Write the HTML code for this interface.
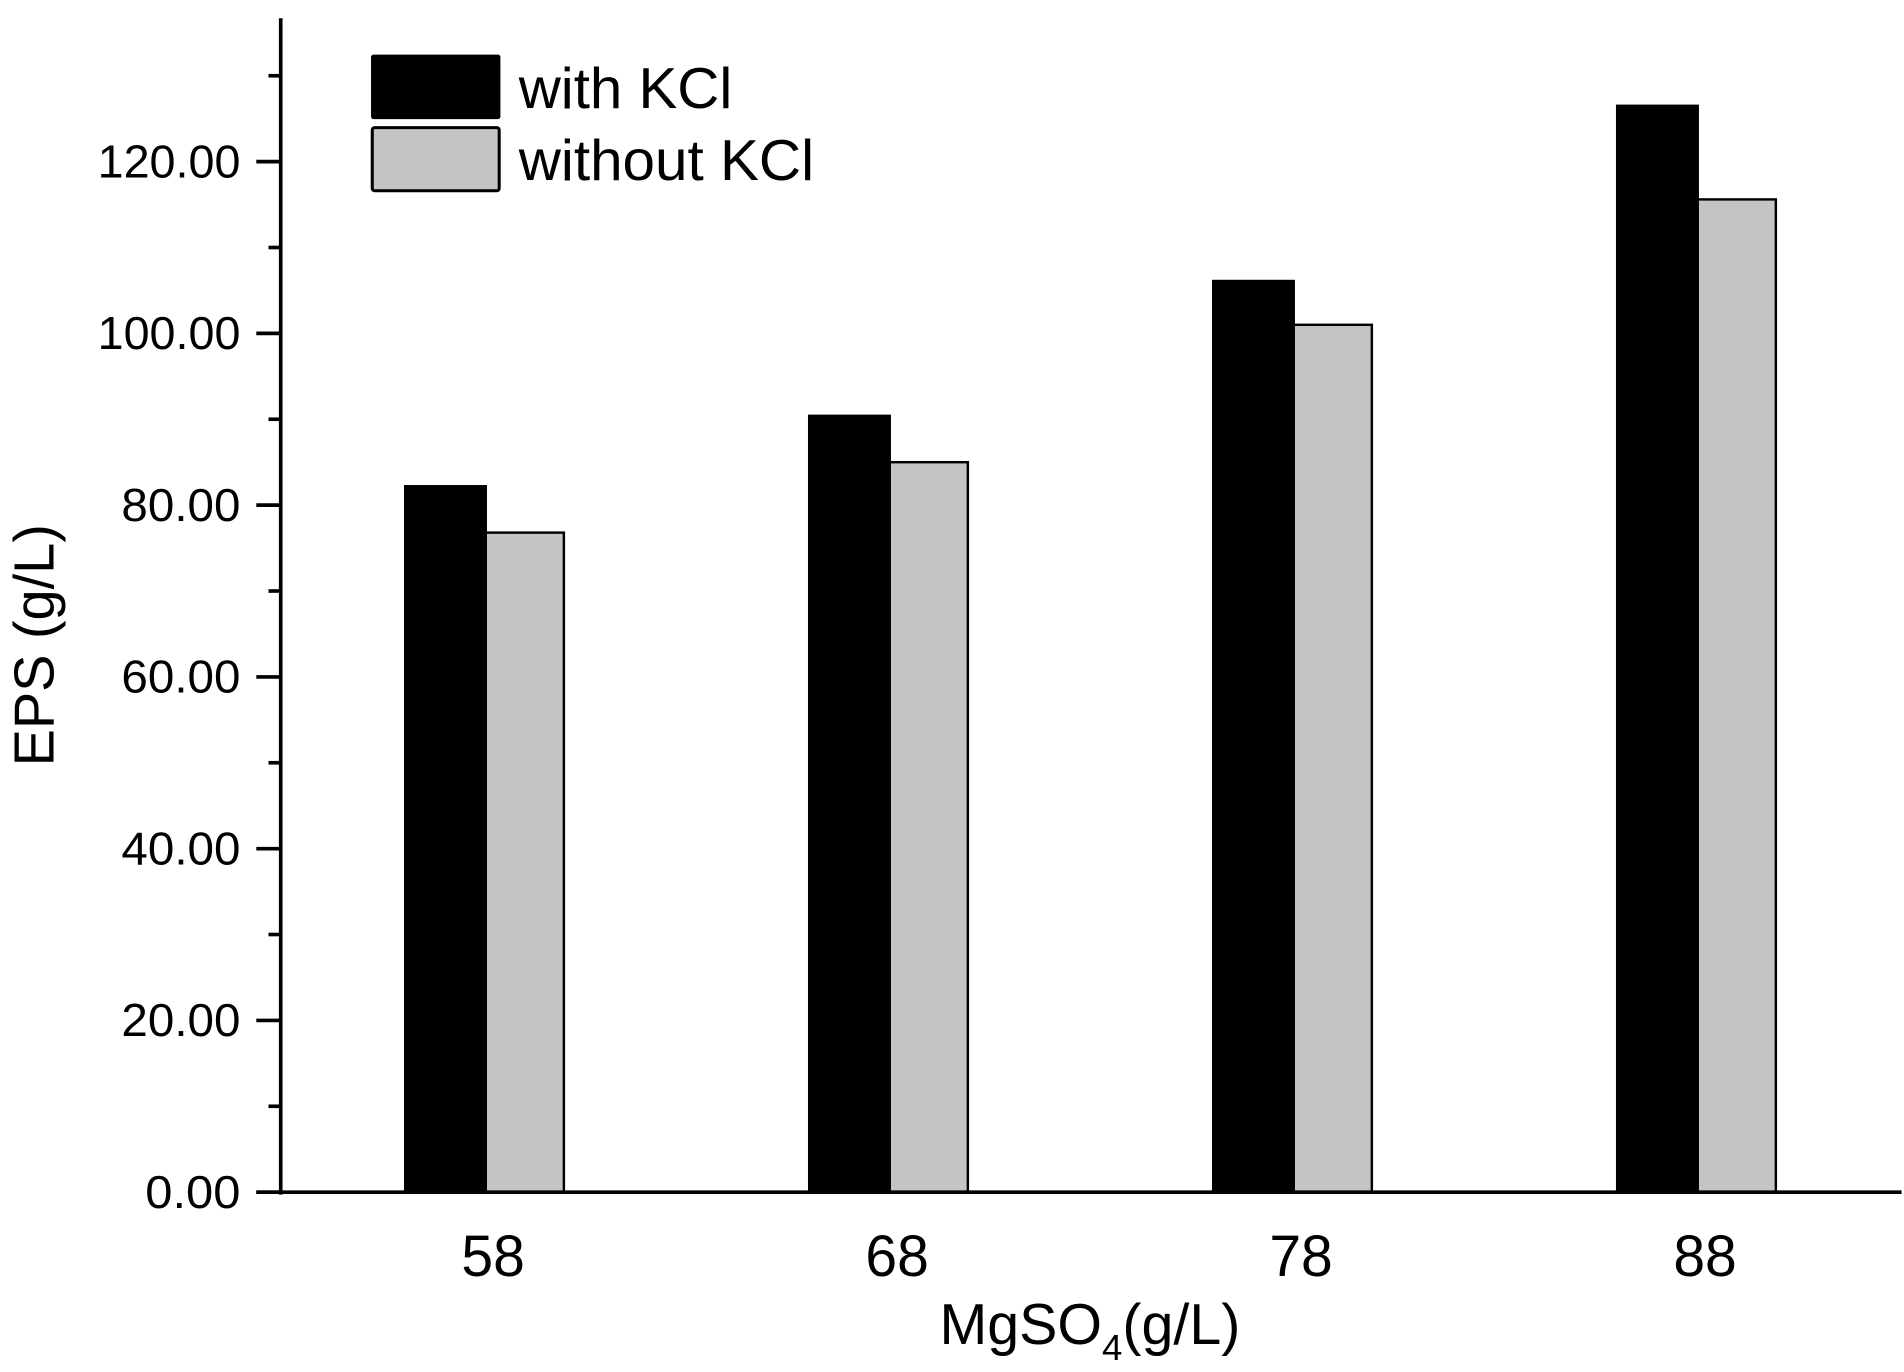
<!DOCTYPE html>
<html><head><meta charset="utf-8"><style>html,body{margin:0;padding:0;background:#fff}svg{display:block}</style></head>
<body>
<svg id="chart" width="1904" height="1372" viewBox="0 0 1560 1129" preserveAspectRatio="none" xmlns="http://www.w3.org/2000/svg" font-family="'Liberation Sans', Arial, sans-serif">
<g id="bars"></g>
<g id="axes"></g>
<g>
  <rect x="304" y="45" width="106" height="53" fill="#000" rx="2"/>
  <text x="425" y="89" font-size="47" textLength="175" lengthAdjust="spacingAndGlyphs">with KCl</text>
  <rect x="305" y="105" width="104" height="52" fill="#c4c4c4" stroke="#000" stroke-width="2.5" rx="2"/>
  <text x="425" y="148" font-size="47" textLength="242" lengthAdjust="spacingAndGlyphs">without KCl</text>
</g>
<text transform="translate(44,531) rotate(-90)" text-anchor="middle" font-size="46">EPS (g/L)</text>
<text x="893" y="1106" text-anchor="middle" font-size="47">MgSO<tspan font-size="30" dy="13">4</tspan><tspan dy="-13">(g/L)</tspan></text>
</svg>
<script>
const categories = ["58", "68", "78", "88"];
const withKCl = [82.2, 90.4, 106.1, 126.5];
const withoutKCl = [76.8, 85.0, 101.0, 115.6];
const yTicks = [0, 20, 40, 60, 80, 100, 120];
const yTickLabels = ["0.00", "20.00", "40.00", "60.00", "80.00", "100.00", "120.00"];

const NS = "http://www.w3.org/2000/svg";
const y0 = 981, pxPerUnit = 848 / 120;
const yScale = v => y0 - v * pxPerUnit;
const xCenter = i => 398 + i * 331;
const barW = 66;
const bars = document.getElementById('bars');
const axes = document.getElementById('axes');
function mk(tag, attrs, parent) {
  const e = document.createElementNS(NS, tag);
  for (const k in attrs) e.setAttribute(k, attrs[k]);
  parent.appendChild(e);
  return e;
}
categories.forEach((c, i) => {
  const cx = xCenter(i);
  const b1 = mk('rect', {x: cx - barW, y: yScale(withKCl[i]), width: barW, height: y0 - yScale(withKCl[i]), fill: '#000', stroke: '#000', 'stroke-width': 2}, bars);
  
  
  const b2 = mk('rect', {x: cx, y: yScale(withoutKCl[i]), width: barW - 2, height: y0 - yScale(withoutKCl[i]), fill: '#c4c4c4', stroke: '#000', 'stroke-width': 2}, bars);
  
  
  const t = mk('text', {x: cx + 6, y: 1050, 'text-anchor': 'middle', 'font-size': 48, textLength: 52, lengthAdjust: 'spacingAndGlyphs'}, axes);
  t.textContent = c;
  
  
});
const ya = mk('line', {x1: 230, y1: 15, x2: 230, y2: y0 + 2, stroke: '#000', 'stroke-width': 3}, axes);


const xa = mk('line', {x1: 210, y1: y0, x2: 1558, y2: y0, stroke: '#000', 'stroke-width': 3}, axes);


for (let v = 10; v <= 130; v += 20) {
  const m = mk('line', {x1: 220, y1: yScale(v), x2: 230, y2: yScale(v), stroke: '#000', 'stroke-width': 3}, axes);
  
  
}
yTicks.forEach((v, i) => {
  const tk = mk('line', {x1: 210, y1: yScale(v), x2: 230, y2: yScale(v), stroke: '#000', 'stroke-width': 3}, axes);
  
  
  const lbl = yTickLabels[i];
  const t = mk('text', {x: 197, y: yScale(v) + 13, 'text-anchor': 'end', 'font-size': 38, textLength: lbl.length * 19.5, lengthAdjust: 'spacingAndGlyphs'}, axes);
  t.textContent = lbl;
  
  
});
</script>
</body></html>
